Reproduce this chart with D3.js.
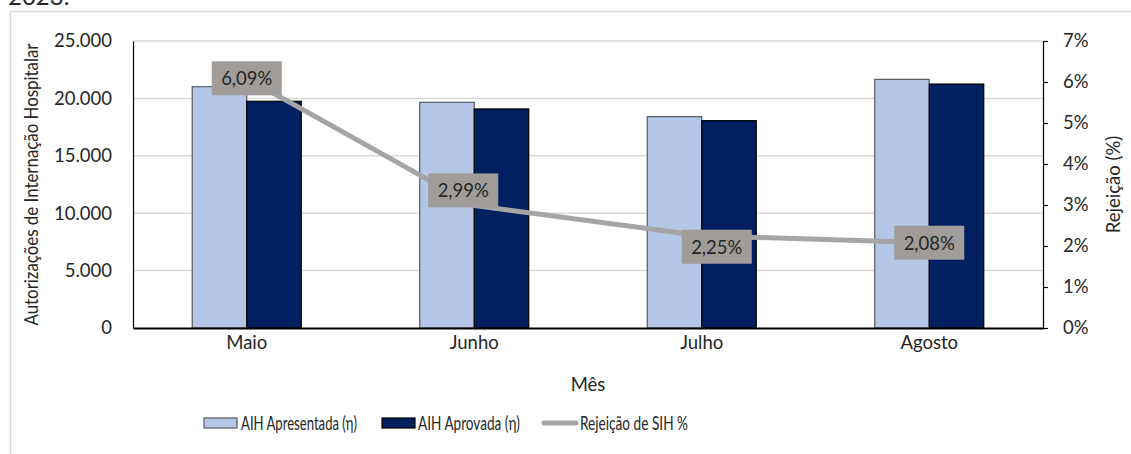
<!doctype html>
<html>
<head>
    <meta http-equiv="Content-type" content="text/html; charset=utf-8"/>
    <script src="https://d3js.org/d3.v7.min.js"></script>
    <style>
        body { margin: 0; background: #fff; }
        svg text { font-family: Lato, "Open Sans", sans-serif; fill: #262626; }
    </style>
</head>
<body>
<svg width="1131" height="454"></svg>
<script>
    // data
    var months = ["Maio", "Junho", "Julho", "Agosto"];
    var series = ["AIH Apresentada (η)", "AIH Aprovada (η)"];
    var apresentada = [21020, 19660, 18410, 21660];
    var aprovada = [19750, 19080, 18060, 21250];
    var rejeicao = [0.0609, 0.0299, 0.0225, 0.0208];
    var leftTicks = [0, 5000, 10000, 15000, 20000, 25000];
    var rightTicks = [0, 0.01, 0.02, 0.03, 0.04, 0.05, 0.06, 0.07];

    var locale = d3.formatLocale({decimal: ",", thousands: ".", grouping: [3], currency: ["R$", ""]});
    var fmtN = locale.format(",.0f");
    var fmtP = locale.format(".0%");
    var fmtP2 = locale.format(".2%");

    var svg = d3.select("svg");
    var L = 133, R = 1043, T = 41, B = 328;

    // cut-off caption and chart frame
    svg.append("text").attr("x", 8).attr("y", 5).style("font-size", "24px").text("2023.");
    svg.append("rect").attr("x", 10.5).attr("y", 11.5).attr("width", 1140).attr("height", 460)
        .attr("fill", "none").attr("stroke", "#d9d9d9").attr("stroke-width", 1.5);

    var x = d3.scaleBand().domain(months).range([L, R]);
    var x1 = d3.scaleBand().domain(series).range([x.bandwidth() / 2 - 54.5, x.bandwidth() / 2 + 54.5]);
    var yL = d3.scaleLinear().domain([0, 25000]).range([B, T]);
    var yR = d3.scaleLinear().domain([0, 0.07]).range([B, T]);

    // gridlines
    svg.append("g").selectAll("line").data(leftTicks.slice(1)).enter().append("line")
        .attr("x1", L).attr("x2", R)
        .attr("y1", function(d) { return yL(d); }).attr("y2", function(d) { return yL(d); })
        .attr("stroke", "#d9d9d9").attr("stroke-width", 1.5);

    // bars
    var rows = months.map(function(m, i) { return [apresentada[i], aprovada[i]]; });
    var fills = ["#b4c7e7", "#002060"];
    var strokes = ["#59595f", "#000"];
    svg.append("g").selectAll("g").data(rows).enter().append("g")
        .attr("transform", function(d, i) { return "translate(" + x(months[i]) + ",0)"; })
        .selectAll("rect").data(function(d) { return d; }).enter().append("rect")
        .attr("x", function(d, j) { return x1(series[j]); })
        .attr("width", x1.bandwidth())
        .attr("y", function(d) { return yL(d); })
        .attr("height", function(d) { return B - yL(d); })
        .attr("fill", function(d, j) { return fills[j]; })
        .attr("stroke", function(d, j) { return strokes[j]; })
        .attr("stroke-width", 1.2);

    // left axis
    var axL = svg.append("g").attr("transform", "translate(" + L + ",0)")
        .call(d3.axisLeft(yL).tickValues(leftTicks).tickSize(0).tickPadding(21).tickFormat(fmtN));
    axL.select(".domain").attr("stroke", "#000").attr("stroke-width", 1.2);
    axL.selectAll("text").style("font-size", "18.5px").style("font-family", "Lato").attr("fill", "#262626");

    // right axis
    var axR = svg.append("g").attr("transform", "translate(" + R + ",0)")
        .call(d3.axisRight(yR).tickValues(rightTicks).tickSize(5).tickSizeOuter(5).tickPadding(15).tickFormat(fmtP));
    axR.selectAll("path, line").attr("stroke", "#000").attr("stroke-width", 1.2);
    axR.selectAll("text").style("font-size", "18.5px").style("font-family", "Lato").attr("fill", "#262626");

    // bottom axis
    var axB = svg.append("g").attr("transform", "translate(0," + B + ")")
        .call(d3.axisBottom(x).tickSize(0).tickSizeOuter(0).tickPadding(8));
    axB.select(".domain").attr("stroke", "#000").attr("stroke-width", 2);
    axB.selectAll("text").style("font-size", "18.5px").style("font-family", "Lato").attr("fill", "#262626");

    // axis titles
    svg.append("text").attr("transform", "translate(31," + (T + B) / 2 + ") rotate(-90)")
        .attr("text-anchor", "middle").attr("dominant-baseline", "central")
        .attr("textLength", 282).attr("lengthAdjust", "spacingAndGlyphs")
        .style("font-size", "18.5px").text("Autorizações de Internação Hospitalar");
    svg.append("text").attr("transform", "translate(1113," + (T + B) / 2 + ") rotate(-90)")
        .attr("text-anchor", "middle").attr("dominant-baseline", "central")
        .style("font-size", "18.5px").text("Rejeição (%)");
    svg.append("text").attr("x", (L + R) / 2).attr("y", 391).attr("text-anchor", "middle")
        .style("font-size", "18.5px").text("Mês");

    // rejection line
    var cx = function(i) { return x(months[i]) + x.bandwidth() / 2; };
    var line = d3.line().x(function(d, i) { return cx(i); }).y(function(d) { return yR(d); });
    svg.append("path").datum(rejeicao).attr("d", line)
        .attr("fill", "none").attr("stroke", "#a5a5a5").attr("stroke-width", 5)
        .attr("stroke-linecap", "round").attr("stroke-linejoin", "round");

    // data labels (nudged like the original)
    var nudge = [[0, 0], [-11, -15], [15, 11], [0, 0]];
    var lab = svg.append("g").selectAll("g").data(rejeicao).enter().append("g")
        .attr("transform", function(d, i) { return "translate(" + (cx(i) + nudge[i][0]) + "," + (yR(d) + nudge[i][1]) + ")"; });
    lab.append("rect").attr("x", -35).attr("y", -17).attr("width", 70).attr("height", 34).attr("fill", "#9f9c9a");
    lab.append("text").attr("text-anchor", "middle").attr("dominant-baseline", "central")
        .style("font-size", "18.5px").attr("fill", "#1a1a1a")
        .text(function(d) { return fmtP2(d); });

    // legend
    var ly = 423;
    var lg = svg.append("g");
    lg.append("rect").attr("x", 204).attr("y", ly - 5).attr("width", 33).attr("height", 10)
        .attr("fill", fills[0]).attr("stroke", strokes[0]).attr("stroke-width", 1.2);
    lg.append("rect").attr("x", 382).attr("y", ly - 5).attr("width", 33).attr("height", 10)
        .attr("fill", fills[1]).attr("stroke", strokes[1]).attr("stroke-width", 1.2);
    lg.append("line").attr("x1", 544).attr("x2", 576).attr("y1", ly).attr("y2", ly)
        .attr("stroke", "#a5a5a5").attr("stroke-width", 5).attr("stroke-linecap", "round");
    var legText = [[241, series[0], 116], [418, series[1], 102], [580, "Rejeição de SIH %", 108]];
    legText.forEach(function(t) {
        lg.append("text").attr("x", t[0]).attr("y", ly + 7).style("font-size", "19px")
            .attr("textLength", t[2]).attr("lengthAdjust", "spacingAndGlyphs").text(t[1]);
    });
</script>
</body>
</html>
